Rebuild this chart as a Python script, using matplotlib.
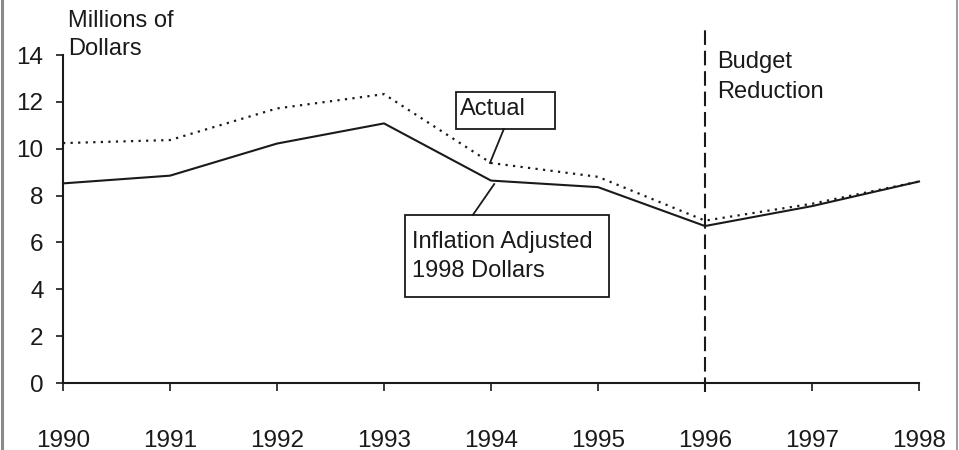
import matplotlib
matplotlib.use("Agg")
import matplotlib.pyplot as plt
from matplotlib.lines import Line2D
from matplotlib.patches import Rectangle

plt.rcParams['font.family'] = ['Liberation Sans', 'DejaVu Sans']

# data
years = [1990, 1991, 1992, 1993, 1994, 1995, 1996, 1997, 1998]
actual = [8.52, 8.85, 10.22, 11.08, 8.64, 8.36, 6.70, 7.55, 8.60]
inflation_adj = [10.24, 10.37, 11.72, 12.33, 9.39, 8.80, 6.93, 7.65, 8.60]
yticks = [0, 2, 4, 6, 8, 10, 12, 14]
budget_year = 1996

ink = '#1a1a1a'
fs = 17
fig = plt.figure(figsize=(9.59, 4.5), dpi=100)
ax = fig.add_axes([63/959, 1-383/450, (919-63)/959, (383-55)/450])

ax.plot(years, inflation_adj, color=ink, lw=1.6, linestyle=(0, (1, 2.4)), clip_on=False)
ax.plot(years, actual, color=ink, lw=1.5, clip_on=False)

# budget reduction marker
ax.axvline(budget_year, ymin=-9/328, ymax=(383-30)/328, color=ink, lw=1.5,
           linestyle=(0, (7, 2.8)), clip_on=False)

ax.set_xlim(years[0], years[-1])
ax.set_ylim(0, 14)
ax.set_xticks(years)
ax.set_yticks(yticks)
ax.tick_params(axis='y', length=5, width=1.2, pad=9, labelsize=17.5, colors=ink)
ax.tick_params(axis='x', length=6, width=1.2, pad=28, labelsize=17.5, colors=ink)
for s in ['top', 'right']:
    ax.spines[s].set_visible(False)
for s in ['left', 'bottom']:
    ax.spines[s].set_linewidth(1.5)
    ax.spines[s].set_color(ink)

# text labels
ax.text(1990.05, 15.19, 'Millions of', fontsize=fs, color=ink, va='baseline', clip_on=False)
ax.text(1990.05, 14.0, 'Dollars', fontsize=fs, color=ink, va='baseline', clip_on=False)
ax.text(1996.11, 13.44, 'Budget', fontsize=fs, color=ink, va='baseline')
ax.text(1996.11, 12.16, 'Reduction', fontsize=fs, color=ink, va='baseline')

# "Actual" callout
ax.add_patch(Rectangle((1993.673, 10.84), 0.925, 1.58, fill=False, ec=ink, lw=1.3, zorder=4))
ax.text(1993.71, 11.44, 'Actual', fontsize=fs, color=ink, va='baseline')
ax.plot([1994.12, 1993.99], [10.84, 9.39], color=ink, lw=1.3)

# "Inflation Adjusted" callout
ax.add_patch(Rectangle((1993.196, 3.67), 1.907, 3.50, fill=False, ec=ink, lw=1.3, zorder=4))
ax.text(1993.26, 5.76, 'Inflation Adjusted', fontsize=fs, color=ink, va='baseline')
ax.text(1993.26, 4.54, '1998 Dollars', fontsize=fs, color=ink, va='baseline')
ax.plot([1993.83, 1994.03], [7.17, 8.49], color=ink, lw=1.3)

# gray frame edges
fig.add_artist(Line2D([1.5/959, 1.5/959], [0, 1], color='#8a8a8a', lw=2.2))
fig.add_artist(Line2D([956.5/959, 956.5/959], [0, 1], color='#8a8a8a', lw=1.2))

fig.savefig('out.png', dpi=100)
